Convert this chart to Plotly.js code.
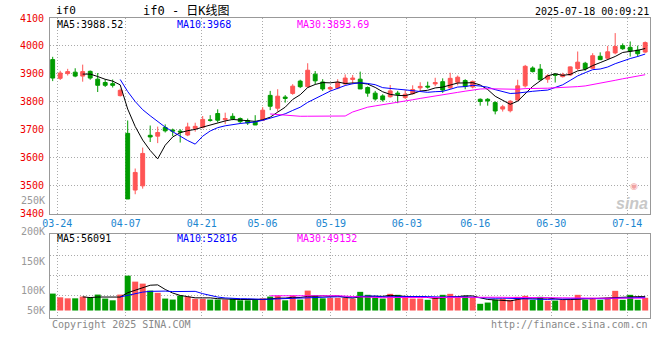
<!DOCTYPE html>
<html><head><meta charset="utf-8">
<script src="https://cdn.plot.ly/plotly-3.0.1.min.js"></script>
<style>html,body{margin:0;padding:0;background:#fff;overflow:hidden}#chart{width:660px;height:360px}</style>
</head><body><div id="chart"></div>
<script>
// ---------- data ----------
const dates = ['03-21','03-24','03-25','03-26','03-27','03-28','03-31','04-01','04-02','04-03',
'04-07','04-08','04-09','04-10','04-11','04-14','04-15','04-16','04-17','04-18',
'04-21','04-22','04-23','04-24','04-25','04-28','04-29','04-30','05-06','05-07',
'05-08','05-09','05-12','05-13','05-14','05-15','05-16','05-19','05-20','05-21',
'05-22','05-23','05-26','05-27','05-28','05-29','05-30','06-03','06-04','06-05',
'06-06','06-09','06-10','06-11','06-12','06-13','06-16','06-17','06-18','06-19',
'06-20','06-23','06-24','06-25','06-26','06-27','06-30','07-01','07-02','07-03',
'07-04','07-07','07-08','07-09','07-10','07-11','07-14','07-15','07-16','07-17'];
const openPrices = [3951,3884,3901,3906,3892,3909,3881,3869,3865,3822,
3687,3484,3499,3680,3677,3708,3699,3695,3681,3704,
3709,3735,3758,3736,3748,3740,3733,3728,3734,3823,
3777,3817,3830,3874,3854,3899,3871,3846,3849,3864,
3880,3881,3851,3831,3821,3818,3831,3815,3829,3850,
3856,3864,3872,3850,3870,3876,3853,3809,3809,3797,
3774,3768,3806,3857,3921,3917,3881,3899,3890,3896,
3919,3938,3920,3963,3956,3975,4001,3995,3985,3978];
const highPrices = [3961,3911,3918,3920,3933,3912,3903,3881,3880,3847,
3733,3561,3636,3715,3711,3719,3704,3702,3725,3725,
3749,3752,3773,3761,3759,3744,3740,3752,3781,3839,
3845,3824,3863,3879,3938,3910,3881,3857,3881,3898,
3896,3908,3855,3839,3827,3860,3839,3843,3859,3870,
3872,3886,3884,3904,3894,3881,3876,3812,3813,3802,
3789,3806,3879,3932,3927,3935,3899,3901,3904,3927,
3980,3943,3974,3977,4000,4046,4009,4016,4001,4016];
const lowPrices = [3874,3878,3894,3888,3872,3879,3835,3853,3851,3819,
3452,3469,3489,3656,3652,3690,3677,3654,3677,3693,
3705,3729,3726,3720,3734,3722,3717,3717,3731,3770,
3765,3797,3825,3849,3851,3863,3839,3839,3845,3861,
3863,3846,3818,3804,3801,3815,3795,3810,3826,3838,
3847,3856,3832,3845,3859,3845,3848,3786,3786,3755,
3765,3762,3804,3851,3905,3875,3868,3869,3887,3893,
3913,3911,3918,3949,3954,3970,3986,3962,3961,3975];
const closePrices = [3885,3903,3908,3892,3908,3885,3859,3859,3859,3841,
3452,3547,3615,3674,3690,3696,3695,3692,3710,3712,
3737,3734,3734,3740,3739,3729,3724,3717,3770,3784,
3820,3812,3856,3854,3913,3875,3846,3851,3870,3885,
3885,3846,3831,3810,3807,3839,3827,3827,3844,3855,
3853,3869,3842,3884,3888,3855,3873,3801,3803,3767,
3782,3802,3857,3927,3908,3879,3893,3895,3898,3925,
3942,3918,3965,3951,3979,3998,3990,3982,3972,4012];
const volumes = [68000,53000,49000,49000,56000,53000,64000,48000,41000,64000,
140000,116000,108000,80000,71000,48000,44000,60000,56000,47000,
47000,44000,44000,44000,48000,41000,41000,44000,49000,56000,
60000,41000,60000,44000,80000,61000,49000,51000,51000,51000,
47000,75000,63000,52000,48000,67000,63000,52000,48000,48000,
43000,54000,63000,67000,52000,59000,52000,27000,32000,43000,
48000,43000,55000,59000,43000,55000,39000,40000,43000,43000,
63000,43000,51000,43000,51000,79000,43000,63000,43000,51000];
const tickDates = ['03-24','04-07','04-21','05-06','05-19','06-03','06-16','06-30','07-14'];
const priceTicks = [3400,3500,3600,3700,3800,3900,4000,4100];
const volTickLabels = ['250K','200K','150K','100K','50K'];
const priceMaLabels = ['MA5:3988.52','MA10:3968','MA30:3893.69'];
const volMaLabels = ['MA5:56091','MA10:52816','MA30:49132'];
const maPeriods = [5,10,30];

// ---------- styling / layout ----------
const UP = '#ff5555', DOWN = '#009c00';
const MA_COLORS = ['#000000','#0000ff','#ff00ff'];
const MONO = 'DejaVu Sans Mono, Liberation Mono, monospace';
const GRID = '#aaaaaa', BORDER = '#999999';
const ML = 50, MR = 10, MT = 18, MB = 42, W = 660, H = 360;
const PH = H - MT - MB;
const py = p => (H - MB - p) / PH;      // pixel y -> paper y
const px = p => (p - ML) / (W - ML - MR); // pixel x -> paper x

const idx = dates.map((d, i) => i);
function movingAvg(vals, n) {
  return vals.map((v, i) => {
    if (i < n - 1) return null;
    let s = 0; for (let k = i - n + 1; k <= i; k++) s += vals[k];
    return s / n;
  });
}
// date gridlines drift slightly against candle centres in the original
const tickVals = tickDates.map(d => dates.indexOf(d) * 7.6 / 7.5 - 0.4);

const traces = [];
traces.push({
  type: 'candlestick', x: idx, open: openPrices, high: highPrices, low: lowPrices, close: closePrices,
  xaxis: 'x', yaxis: 'y', whiskerwidth: 0, hoverinfo: 'none',
  increasing: {line: {color: UP, width: 1}, fillcolor: UP},
  decreasing: {line: {color: DOWN, width: 1}, fillcolor: DOWN}
});
maPeriods.forEach((n, k) => traces.push({
  type: 'scatter', mode: 'lines', x: idx, y: movingAvg(closePrices, n), xaxis: 'x', yaxis: 'y',
  line: {color: MA_COLORS[k], width: 1}, hoverinfo: 'skip'
}));
traces.push({
  type: 'bar', x: idx, y: volumes, xaxis: 'x2', yaxis: 'y2', width: 0.8,
  marker: {color: idx.map(i => closePrices[i] >= openPrices[i] ? UP : DOWN), line: {width: 0}},
  hoverinfo: 'skip'
});
maPeriods.forEach((n, k) => traces.push({
  type: 'scatter', mode: 'lines', x: idx, y: movingAvg(volumes, n), xaxis: 'x2', yaxis: 'y2',
  line: {color: MA_COLORS[k], width: 1}, hoverinfo: 'skip'
}));

const xRange = [-0.36, 79.64];
const priceDomain = [py(213.5), 1];
const volDomain = [0, py(234.3)];
const volRange = [-30000, 306000];
const volPxPerUnit = (318 - 234.3) / (volRange[1] - volRange[0]);
const volGridVals = [255, 275, 295].map(p => volRange[0] + (318 - p) / volPxPerUnit);

const commonX = {
  range: xRange, showgrid: true, gridcolor: GRID, griddash: '1px,2px', gridwidth: 1,
  showline: true, linecolor: BORDER, linewidth: 1, mirror: true, zeroline: false,
  ticks: '', tickmode: 'array', tickvals: tickVals, ticktext: tickDates, fixedrange: true
};

const annotations = [];
const txt = (text, x, y, color, anchor, size, family, extra) => annotations.push(Object.assign({
  text, x, y, xref: 'paper', yref: 'paper', xanchor: anchor, yanchor: 'middle', showarrow: false,
  font: {family: family || MONO, size: size || 10, color}
}, extra || {}));

txt('if0', px(54), py(11), '#000', 'left', 11);
txt('if0 - 日K线图', px(186), py(11), '#000', 'center', 12, 'DejaVu Sans Mono, Noto Sans CJK SC');
txt('2025-07-18 00:09:21', px(651), py(12), '#000', 'right', 10);
[55, 175, 295].forEach((x, k) => txt(priceMaLabels[k], px(x), py(24), MA_COLORS[k], 'left', 10));
[55, 175, 295].forEach((x, k) => txt(volMaLabels[k], px(x), py(238.5), MA_COLORS[k], 'left', 10));
[200, 231, 261, 290, 310].forEach((y, k) => txt(volTickLabels[k], 0, py(y), '#999999', 'right', 10, null, {xshift: -3}));
txt('Copyright 2025 SINA.COM', 0, py(324), '#888888', 'left', 10);
txt('http://finance.sina.com.cn', 1, py(324), '#888888', 'right', 10);
txt('◉', px(634), py(186), '#f2a3a3', 'center', 9, 'DejaVu Sans');
txt('<b><i>sina</i></b>', px(650), py(203), '#c8c8c8', 'right', 16, 'Liberation Sans, Arial');

const layout = {
  width: W, height: H, margin: {l: ML, r: MR, t: MT, b: MB, pad: 0},
  paper_bgcolor: '#ffffff', plot_bgcolor: '#ffffff', showlegend: false, hovermode: false,
  boxgap: 0.26,
  xaxis: Object.assign({}, commonX, {anchor: 'y', domain: [0, 1], rangeslider: {visible: false},
    tickfont: {family: MONO, size: 10, color: '#1a86d0'}}),
  xaxis2: Object.assign({}, commonX, {anchor: 'y2', domain: [0, 1], matches: 'x', showticklabels: false}),
  yaxis: {domain: priceDomain, range: [3400, 4100], tickmode: 'array', tickvals: priceTicks,
    showgrid: true, gridcolor: GRID, griddash: '1px,2px', showline: true, linecolor: BORDER, mirror: true,
    zeroline: false, ticks: '', ticklabelstandoff: 3, fixedrange: true,
    tickfont: {family: MONO, size: 10, color: '#ee0000'}},
  yaxis2: {domain: volDomain, range: volRange, tickmode: 'array', tickvals: volGridVals,
    showticklabels: false, showgrid: true, gridcolor: GRID, griddash: '1px,2px',
    showline: true, linecolor: BORDER, mirror: true, zeroline: false, ticks: '', fixedrange: true},
  annotations
};

Plotly.newPlot('chart', traces, layout, {staticPlot: true, displayModeBar: false});
</script></body></html>
